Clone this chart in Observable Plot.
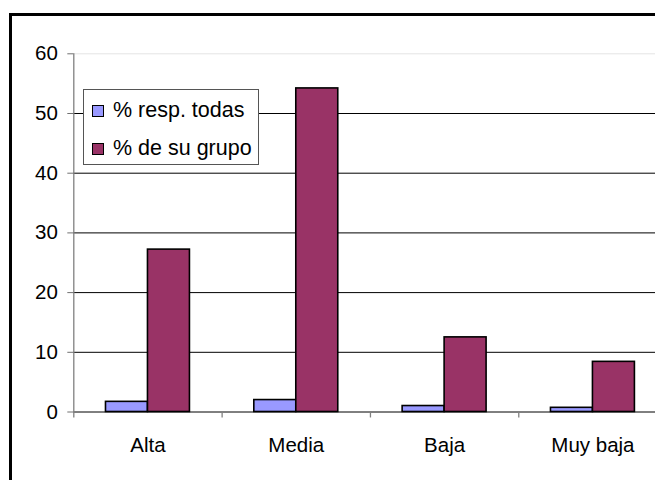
<!DOCTYPE html>
<html>
<head>
<meta charset="utf-8">
<script src="https://cdn.jsdelivr.net/npm/d3@7"></script>
<script src="https://cdn.jsdelivr.net/npm/@observablehq/plot@0.6"></script>
<style>
  html, body { margin: 0; padding: 0; background: white; overflow: hidden; }
  #wrap { position: relative; width: 655px; height: 480px; overflow: hidden; font-family: "Liberation Sans", Arial, sans-serif; }
  #frame { position: absolute; left: 9px; top: 12.5px; width: 700px; height: 520px; border-left: 3px solid #000; border-top: 3px solid #000; box-sizing: border-box; pointer-events: none; }
  #legend { position: absolute; left: 83px; top: 89px; width: 176px; height: 76px; box-sizing: border-box; border: 1px solid #555; background: white; font-size: 21.5px; }
  .item { position: absolute; left: 8px; display: flex; align-items: center; white-space: nowrap; }
  .sw { width: 10px; height: 10px; border: 1.5px solid #000; margin-right: 9px; }
</style>
</head>
<body>
<div id="wrap"></div>
<script>
const categories = ["Alta", "Media", "Baja", "Muy baja"];
const seriesNames = ["% resp. todas", "% de su grupo"];
const respTodas = [1.7, 2.0, 1.0, 0.7];
const deSuGrupo = [27.2, 54.2, 12.5, 8.4];
const yTicks = [0, 10, 20, 30, 40, 50, 60];
const colors = ["#9999FF", "#993366"];

const rows = [];
categories.forEach((c, i) => {
  rows.push({cat: c, i, s: 0, series: seriesNames[0], value: respTodas[i]});
  rows.push({cat: c, i, s: 1, series: seriesNames[1], value: deSuGrupo[i]});
});
const bw = 0.283; // bar width as fraction of category band
const n = categories.length;

const chart = Plot.plot({
  width: 655,
  height: 480,
  marginLeft: 73.3,
  marginRight: 0,
  marginTop: 53.3,
  marginBottom: 68.5,
  style: {fontFamily: "'Liberation Sans', Arial, sans-serif", fontSize: "20.5px", background: "white", color: "black"},
  x: {domain: [0, n], range: [73.3, 666.6], axis: null},
  y: {domain: [0, 60], range: [411.5, 53.3], axis: null},
  color: {domain: seriesNames, range: colors},
  marks: [
    Plot.ruleY([60], {stroke: "#e4e4e4", strokeWidth: 1}),
    Plot.ruleY(yTicks.filter(d => d < 60), {stroke: "#000", strokeWidth: 1}),
    Plot.ruleX([0], {y1: -1, y2: 60, stroke: "#808080", strokeWidth: 1.3}),
    Plot.ruleX(d3.range(1, n), {y1: 0, y2: -1, stroke: "#808080", strokeWidth: 1.3}),
    Plot.axisY({ticks: yTicks, tickSize: 6, tickPadding: 10, stroke: "#707070", fill: "#000", label: null, fontSize: 20.5}),
    Plot.rectY(rows, {
      x1: d => d.i + 0.5 - (d.s === 0 ? bw : 0),
      x2: d => d.i + 0.5 + (d.s === 1 ? bw : 0),
      y: "value",
      fill: "series",
      stroke: "#000",
      strokeWidth: 1.6
    }),
    Plot.text(categories, {x: (d, i) => i + 0.5, y: 0, dy: 33, text: d => d, fill: "#000", fontSize: 20.5})
  ]
});

const wrap = document.getElementById("wrap");
wrap.appendChild(chart);

const frame = document.createElement("div");
frame.id = "frame";
wrap.appendChild(frame);

const legend = document.createElement("div");
legend.id = "legend";
seriesNames.forEach((name, k) => {
  const it = document.createElement("div");
  it.className = "item";
  it.style.top = (k === 0 ? 8 : 46) + "px";
  const sw = document.createElement("div");
  sw.className = "sw";
  sw.style.background = colors[k];
  const tx = document.createElement("span");
  tx.textContent = name;
  it.appendChild(sw);
  it.appendChild(tx);
  legend.appendChild(it);
});
wrap.appendChild(legend);
</script>
</body>
</html>
